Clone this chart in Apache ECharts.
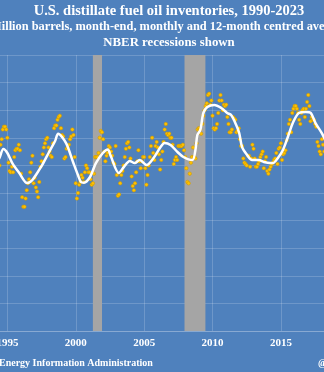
<!DOCTYPE html>
<html><head><meta charset="utf-8">
<script src="https://cdn.jsdelivr.net/npm/echarts@6/dist/echarts.min.js"></script>
<style>
html,body{margin:0;padding:0;overflow:hidden;width:324px;height:372px;background:#4F81BD}
#chart{position:absolute;left:-80px;top:0;width:498px;height:372px}
</style>
</head><body><div id="chart"></div>
<script>
// Monthly month-end inventories (million barrels), starting June 1994
const startYear = 1994;
const startMonth = 6;
const stocks = [
  120, 135, 139, 146, 148, 148, 146,
  140, 122, 116, 115, 119, 115, 126, 131, 132, 132, 135, 131,
  114, 97, 90, 90, 96, 102, 107, 110, 115, 122, 127, 107,
  111, 104, 101, 97, 108, 119, 123, 128, 133, 136, 139, 140,
  133, 130, 127, 126, 136, 147, 149, 149, 153, 155, 156, 147,
  142, 141, 125, 126, 132, 133, 135, 139, 141, 146, 142, 126,
  107, 96, 100, 106, 108, 113, 111, 108, 115, 120, 118, 115,
  115, 110, 106, 107, 114, 126, 126, 126, 129, 140, 145, 144,
  139, 130, 123, 127, 129, 134, 133, 130, 127, 122, 121, 134,
  113, 98, 99, 107, 113, 116, 120, 126, 132, 136, 137, 133,
  125, 112, 105, 102, 107, 115, 123, 131, 123, 118, 123, 126,
  126, 118, 106, 113, 120, 126, 134, 140, 129, 124, 134, 137,
  133, 128, 117, 124, 130, 137, 146, 150, 143, 142, 143, 140,
  140, 135, 121, 124, 126, 124, 134, 134, 134, 134, 135, 131,
  126, 118, 108, 107, 114, 122, 126, 133, 126, 125, 136, 146,
  147, 146, 143, 150, 156, 160, 163, 165, 171, 172, 164, 167,
  156, 147, 146, 147, 150, 158, 167, 171, 167, 160, 164, 163,
  164, 155, 150, 144, 144, 146, 155, 154, 153, 144, 145, 147,
  139, 134, 134, 125, 122, 121, 120, 127, 127, 119, 125, 135,
  132, 125, 119, 119, 121, 123, 126, 128, 130, 118, 123, 126,
  116, 114, 117, 119, 121, 122, 124, 125, 129, 121, 132, 133,
  136, 124, 128, 129, 131, 138, 143, 150, 153, 144, 158, 161,
  163, 163, 161, 158, 153, 150, 158, 160, 161, 155, 161, 166,
  171, 163, 152, 155, 153, 153, 150, 148, 137, 134, 130, 128,
  139, 135, 130
];
// 12-month centred average
const avgYears = [1994.0, 1994.42, 1994.71, 1995.0, 1995.36, 1995.87, 1996.45, 1996.82, 1997.18, 1997.55,
  1998.05, 1998.49, 1998.71, 1999.29, 1999.8, 2000.16, 2000.38, 2000.6, 2001.04, 2001.47, 2001.98,
  2002.35, 2002.55, 2003.15, 2003.51, 2003.95, 2004.31, 2004.67, 2005.18, 2005.69, 2006.2, 2006.49,
  2006.93, 2007.44, 2007.87, 2008.53, 2008.75, 2008.89, 2009.11, 2009.33, 2009.62, 2010.13, 2010.64,
  2011.07, 2011.36, 2011.73, 2011.95, 2012.16, 2012.53, 2012.89, 2013.4, 2013.76, 2014.2, 2014.42,
  2014.78, 2015.15, 2015.51, 2015.87, 2016.31, 2016.82, 2017.18, 2017.53, 2017.98, 2018.3];
const avgValues = [118, 125.4, 131.9, 129.0, 121.7, 114.5, 107.2, 109.4, 114.5, 120.3,
  129.7, 137.7, 143.0, 136.2, 122.5, 113.0, 108.0, 107.5, 111.6, 121.7, 129.0,
  131.5, 127.0, 114.5, 118.8, 123.2, 121.7, 123.9, 120.3, 125.4, 133.3, 136.2,
  134.8, 129.7, 126.1, 123.9, 131.2, 142.0, 145.7, 158.0, 162.3, 163.8, 161.6,
  158.0, 156.5, 149.3, 143.5, 133.3, 127.5, 123.9, 123.9, 122.5, 121.7, 121.7,
  125.4, 131.2, 140.6, 150.7, 158.0, 158.7, 158.0, 150.7, 143.5, 137];
// NBER recessions (decimal years)
const recessions = [[1990.58, 1991.25], [2001.25, 2001.92], [2007.95, 2009.48], [2020.17, 2020.33]];
const titleText = 'U.S. distillate fuel oil inventories, 1990-2023';
const subtitleText = 'Million barrels, month-end, monthly and 12-month centred average';
const noteText = 'NBER recessions shown';
const sourceText = 'Energy Information Administration';
const handleText = '@';

const dots = stocks.map((v, i) => [startYear + (startMonth - 1 + i) / 12, v]);
const avgLine = avgYears.map((y, i) => [y, avgValues[i]]);

const FONT = '"Liberation Serif", "DejaVu Serif", serif';
const chart = echarts.init(document.getElementById('chart'), null, {renderer: 'canvas'});
chart.setOption({
  backgroundColor: '#4F81BD',
  animation: false,
  grid: {left: 19, top: 55, width: 467.5, height: 276},
  xAxis: {
    type: 'value', min: 1990, max: 2024, interval: 5,
    axisLine: {show: true, lineStyle: {color: 'rgba(255,255,255,0.18)'}},
    axisTick: {show: false},
    splitLine: {show: true, lineStyle: {color: 'rgba(255,255,255,0.18)', width: 1}},
    axisLabel: {color: '#fff', fontFamily: FONT, fontWeight: 'bold', fontSize: 11, margin: 7,
      formatter: v => String(v)}
  },
  yAxis: {
    type: 'value', min: 0, max: 200, interval: 20,
    axisLine: {show: false}, axisTick: {show: false}, axisLabel: {show: false},
    splitLine: {show: true, lineStyle: {color: 'rgba(255,255,255,0.18)', width: 1}}
  },
  graphic: [
    {type: 'text', left: 'center', top: 4, style: {text: titleText, fill: '#fff',
      font: 'bold 14.5px ' + FONT}},
    {type: 'text', left: 'center', top: 21, style: {text: subtitleText, fill: '#fff',
      font: 'bold 12.4px ' + FONT}},
    {type: 'text', left: 'center', top: 36, style: {text: noteText, fill: '#fff',
      font: 'bold 12.8px ' + FONT}},
    {type: 'text', left: 79, top: 358, style: {text: sourceText, fill: '#fff',
      font: 'bold 10px ' + FONT}},
    {type: 'text', left: 398, top: 358, style: {text: handleText, fill: '#fff',
      font: 'bold 10px ' + FONT}}
  ],
  series: [
    {type: 'line', data: [], silent: true,
      markArea: {silent: true, itemStyle: {color: '#A5A5A5', opacity: 1},
        data: recessions.map(r => [{xAxis: r[0]}, {xAxis: r[1]}])}},
    {type: 'scatter', data: dots, symbol: 'circle', symbolSize: 3.5, z: 3,
      itemStyle: {color: '#FFC000', borderColor: '#C99700', borderWidth: 0.5, opacity: 1}},
    {type: 'line', data: avgLine, showSymbol: false, smooth: 0.3, z: 4,
      lineStyle: {color: '#fff', width: 2.5}}
  ]
});
</script></body></html>
